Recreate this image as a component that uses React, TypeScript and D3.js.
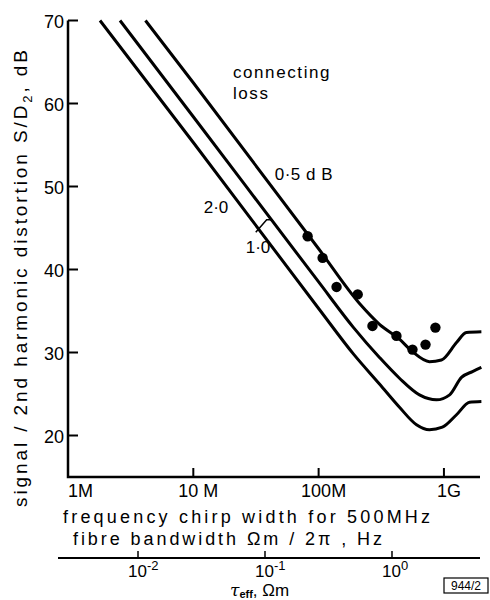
import { useEffect, useRef } from 'react';
import * as d3 from 'd3';

// frequency chirp width (Hz) and S/D2 (dB)
const loss05Freq = [4.15e6, 10e6, 100e6, 212e6, 306e6, 442e6, 561e6, 766e6, 955e6, 1.26e9, 1.51e9, 1.99e9];
const loss05Db = [70, 62.5, 42.5, 35.9, 33.4, 31.6, 30.1, 28.9, 29.1, 31.2, 32.4, 32.5];

const loss10Freq = [2.6e6, 10e6, 100e6, 190e6, 306e6, 442e6, 638e6, 871e6, 1.11e9, 1.38e9, 1.69e9, 1.99e9];
const loss10Db = [70, 58.4, 38.5, 33.0, 29.4, 26.9, 24.9, 24.3, 24.9, 27.0, 27.7, 28.2];

const loss20Freq = [1.8e6, 10e6, 100e6, 190e6, 306e6, 442e6, 604e6, 766e6, 972e6, 1.26e9, 1.6e9, 1.99e9];
const loss20Db = [70, 55.3, 35.3, 29.8, 26.2, 23.4, 21.3, 20.7, 21.0, 22.5, 24.0, 24.1];

const measFreq = [81.7e6, 107.6e6, 139e6, 205e6, 269e6, 418e6, 561e6, 713e6, 855e6];
const measDb = [44.0, 41.4, 37.9, 37.0, 33.2, 32.0, 30.35, 30.95, 33.0];

const dbTicks = [20, 30, 40, 50, 60, 70];
const freqTicks = [1e6, 1e7, 1e8, 1e9];
const freqTickLabels = ['1M', '10 M', '100M', '1G'];
const tauTicks = [1e-2, 1e-1, 1e0];
const tauTickExps = ['-2', '-1', '0'];

const FONT = '"Liberation Sans", Arial, sans-serif';

export default function App() {
  const svgRef = useRef<SVGSVGElement>(null);
  const width = 490;
  const height = 600;

  useEffect(() => {
    if (!svgRef.current) return;
    const svg = d3.select(svgRef.current);
    svg.selectAll('*').remove();

    const x = d3.scaleLog().domain([1e6, 1.94e9]).range([68, 480]);
    const y = d3.scaleLinear().domain([15, 70]).range([477, 20.5]);
    const tau = d3.scaleLog().domain([Math.pow(10, -2.63), Math.pow(10, 0.693)]).range([58, 480]);

    const g = svg.append('g').style('font-family', FONT).attr('fill', '#000');

    // axes
    g.append('path')
      .attr('d', `M${x.range()[0]},${y(70)}V${y.range()[0]}H${x.range()[1]}`)
      .attr('fill', 'none')
      .attr('stroke', '#000')
      .attr('stroke-width', 2.5);

    g.selectAll('.ytick')
      .data(dbTicks)
      .join('line')
      .attr('x1', x.range()[0])
      .attr('x2', x.range()[0] + 10)
      .attr('y1', d => y(d))
      .attr('y2', d => y(d))
      .attr('stroke', '#000')
      .attr('stroke-width', 2);

    g.selectAll('.ylab')
      .data(dbTicks)
      .join('text')
      .attr('x', x.range()[0] - 4)
      .attr('y', d => y(d))
      .attr('dy', '0.42em')
      .attr('text-anchor', 'end')
      .style('font-size', '18px')
      .text(d => d);

    g.selectAll('.xtick')
      .data(freqTicks.slice(1))
      .join('line')
      .attr('x1', d => x(d))
      .attr('x2', d => x(d))
      .attr('y1', y.range()[0])
      .attr('y2', y.range()[0] - 9)
      .attr('stroke', '#000')
      .attr('stroke-width', 2);

    g.selectAll('.xlab')
      .data(freqTicks)
      .join('text')
      .attr('x', (d, i) => (i === 0 ? x(d) : x(d) + 5))
      .attr('y', 497)
      .attr('text-anchor', (d, i) => (i === 0 ? 'start' : 'middle'))
      .style('font-size', '18px')
      .text((d, i) => freqTickLabels[i]);

    g.append('text')
      .attr('x', 63)
      .attr('y', 523)
      .attr('textLength', 367)
      .attr('lengthAdjust', 'spacing')
      .style('font-size', '18px')
      .text('frequency chirp width for 500MHz');

    g.append('text')
      .attr('x', 73)
      .attr('y', 545)
      .attr('textLength', 309)
      .attr('lengthAdjust', 'spacing')
      .style('font-size', '18px')
      .text('fibre  bandwidth  Ωm / 2π , Hz');

    // tau axis
    g.append('line')
      .attr('x1', tau.range()[0])
      .attr('x2', tau.range()[1])
      .attr('y1', 558)
      .attr('y2', 558)
      .attr('stroke', '#000')
      .attr('stroke-width', 2);

    g.selectAll('.ttick')
      .data(tauTicks)
      .join('line')
      .attr('x1', d => tau(d))
      .attr('x2', d => tau(d))
      .attr('y1', 558)
      .attr('y2', 551)
      .attr('stroke', '#000')
      .attr('stroke-width', 1.5);

    const tl = g.selectAll('.tlab')
      .data(tauTicks)
      .join('text')
      .attr('x', d => tau(d) - 10)
      .attr('y', 577)
      .style('font-size', '17px');
    tl.append('tspan').text('10');
    tl.append('tspan')
      .attr('dy', -7)
      .style('font-size', '13px')
      .text((d, i) => tauTickExps[i]);

    const tt = g.append('text').attr('x', 230).attr('y', 596).style('font-size', '17px');
    tt.append('tspan').style('font-style', 'italic').style('font-family', '"DejaVu Serif", serif').text('τ');
    tt.append('tspan').attr('dy', 2).style('font-size', '11px').style('font-weight', 'bold').text('eff');
    tt.append('tspan').attr('dy', -2).text(', Ωm');

    // id box
    g.append('rect')
      .attr('x', 444)
      .attr('y', 578)
      .attr('width', 44)
      .attr('height', 15)
      .attr('fill', 'none')
      .attr('stroke', '#000')
      .attr('stroke-width', 1.2);
    g.append('text')
      .attr('x', 466)
      .attr('y', 590)
      .attr('text-anchor', 'middle')
      .style('font-size', '12px')
      .text('944/2');

    // y title
    const yt = g.append('text')
      .attr('transform', 'translate(27,507) rotate(-90)')
      .attr('textLength', 457)
      .attr('lengthAdjust', 'spacing')
      .style('font-size', '19px');
    yt.append('tspan').text('signal / 2nd harmonic distortion  S/D');
    yt.append('tspan').attr('dy', 5).style('font-size', '13px').text('2');
    yt.append('tspan').attr('dy', -5).text(', dB');

    // curves
    const line = d3.line<[number, number]>()
      .x(d => x(d[0]))
      .y(d => y(d[1]))
      .curve(d3.curveMonotoneX);

    const curves = [
      loss05Freq.map((f, i) => [f, loss05Db[i]] as [number, number]),
      loss10Freq.map((f, i) => [f, loss10Db[i]] as [number, number]),
      loss20Freq.map((f, i) => [f, loss20Db[i]] as [number, number]),
    ];

    g.selectAll('.curve')
      .data(curves)
      .join('path')
      .attr('d', d => line(d))
      .attr('fill', 'none')
      .attr('stroke', '#000')
      .attr('stroke-width', 3)
      .attr('stroke-linejoin', 'round');

    g.selectAll('.dot')
      .data(measFreq)
      .join('circle')
      .attr('cx', d => x(d))
      .attr('cy', (d, i) => y(measDb[i]))
      .attr('r', 5.2)
      .attr('fill', '#000');

    // annotations
    const ann = (f: number, db: number, t: string, size = 17, ls = 0) =>
      g.append('text')
        .attr('x', x(f))
        .attr('y', y(db))
        .style('font-size', `${size}px`)
        .style('letter-spacing', `${ls}px`)
        .text(t);

    ann(20.7e6, 63.1, 'connecting', 17, 1.6);
    ann(20.7e6, 60.55, 'loss', 17, 1.6);
    ann(44.6e6, 50.8, '0·5 d B', 17, 0.5);
    ann(12.1e6, 46.8, '2·0', 17, 0);
    ann(26.2e6, 42.0, '1·0', 17, 0);

    g.append('path')
      .attr('d', `M${x(31.5e6)},${y(44.5)}L${x(38.5e6)},${y(46.0)}H${x(42.5e6)}`)
      .attr('fill', 'none')
      .attr('stroke', '#000')
      .attr('stroke-width', 1.5);
  }, []);

  return (
    <svg
      ref={svgRef}
      width={width}
      height={height}
      style={{ position: 'absolute', left: 0, top: 0, background: '#fff' }}
    />
  );
}
